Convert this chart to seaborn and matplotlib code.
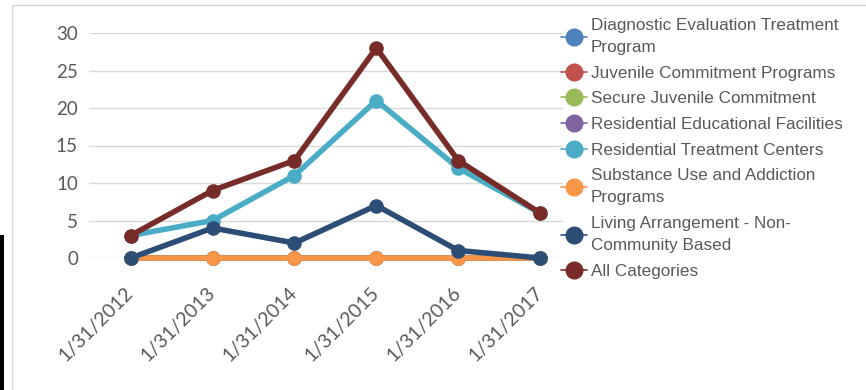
import numpy as np, pandas as pd
import matplotlib as mpl, matplotlib.pyplot as plt
import matplotlib.transforms as mtrans
import seaborn as sns
from matplotlib.lines import Line2D
from matplotlib.patches import Rectangle

#%% data
dates = ['1/31/2012', '1/31/2013', '1/31/2014', '1/31/2015', '1/31/2016', '1/31/2017']
categories = ['Diagnostic Evaluation Treatment\nProgram',
              'Juvenile Commitment Programs',
              'Secure Juvenile Commitment',
              'Residential Educational Facilities',
              'Residential Treatment Centers',
              'Substance Use and Addiction\nPrograms',
              'Living Arrangement - Non-\nCommunity Based',
              'All Categories']
diagnostic = [0, 0, 0, 0, 0, 0]
juvenile = [0, 0, 0, 0, 0, 0]
secure = [0, 0, 0, 0, 0, 0]
educational = [0, 0, 0, 0, 0, 0]
treatment = [3, 5, 11, 21, 12, 6]
substance = [0, 0, 0, 0, 0, 0]
living = [0, 4, 2, 7, 1, 0]
all_cat = [3, 9, 13, 28, 13, 6]
colors = ['#4F81BD', '#C0504D', '#9BBB59', '#8064A2', '#4BACC6', '#F79646', '#2C4D75', '#772C2A']

series = [diagnostic, juvenile, secure, educational, treatment, substance, living, all_cat]
df = pd.concat([pd.DataFrame({'pos': np.arange(len(dates)), 'value': v, 'cat': c})
                for c, v in zip(categories, series)], ignore_index=True)

#%% plot
sns.set_style('white')
plt.rcParams['font.family'] = ['Lato', 'DejaVu Sans']

fig = plt.figure(figsize=(8.66, 3.9), dpi=100)
ax = fig.add_axes([89/866, 1-258/390, (563-89)/866, (258-33)/390])

sns.lineplot(data=df, x='pos', y='value', hue='cat', hue_order=categories,
             palette=colors, marker='o', markersize=10.5, markeredgewidth=0,
             linewidth=4, legend=False, ax=ax, clip_on=False)

ax.set_xlim(-0.51, 5.28)
ax.set_ylim(0, 30)
ax.set_yticks(range(0, 31, 5))
ax.yaxis.grid(True, color='#d9d9d9', linewidth=1)
ax.set_axisbelow(True)
for s in ax.spines.values():
    s.set_visible(False)
ax.set_xticks(range(len(dates)))
ax.set_xticklabels(dates, rotation=45, ha='right', va='center', rotation_mode='anchor',
                   fontsize=14, color='#595959')
shift = mtrans.ScaledTranslation(17/100, 0, fig.dpi_scale_trans)
for lab in ax.get_xticklabels():
    lab.set_transform(lab.get_transform() + shift)
ax.tick_params(axis='y', labelsize=13.5, colors='#595959', length=0, pad=8)
ax.tick_params(axis='x', length=0, pad=23)
ax.set_xlabel('')
ax.set_ylabel('')

handles = [Line2D([], [], color=c, marker='o', markersize=13, markeredgewidth=0,
                  linewidth=1.2) for c in colors]
leg = fig.legend(handles, categories, loc='upper left', bbox_to_anchor=(561/866, 1-18/390),
                 frameon=False, handlelength=1.5, handletextpad=0.25, labelspacing=0.62,
                 borderaxespad=0, borderpad=0,
                 prop={'family': ['Liberation Sans', 'DejaVu Sans'], 'size': 12.3})
for t in leg.get_texts():
    t.set_color('#595959')
    t.set_linespacing(1.6)

# outer chart border and left edge mark
fig.patches.append(Rectangle((12/866, -0.01), 1, 1-5/390+0.01, transform=fig.transFigure,
                             fill=False, edgecolor='#d9d9d9', linewidth=1))
fig.patches.append(Rectangle((0, 0), 4/866, 1-235/390, transform=fig.transFigure,
                             facecolor='black', edgecolor='none'))

fig.savefig('out.png', dpi=100, facecolor='white')
